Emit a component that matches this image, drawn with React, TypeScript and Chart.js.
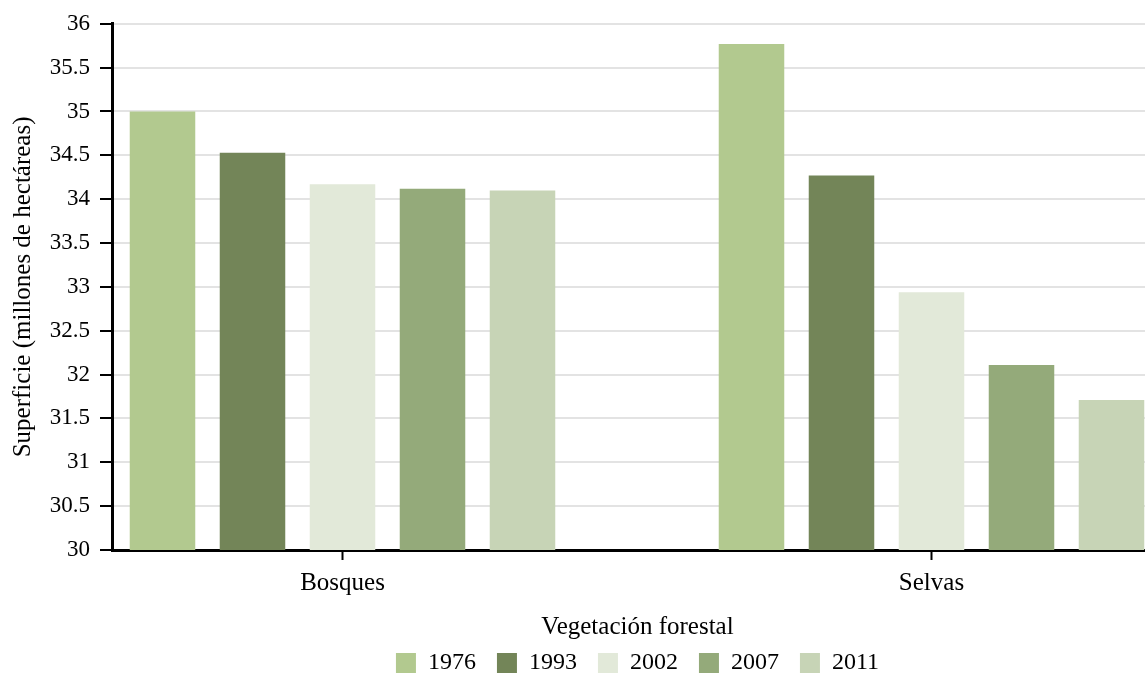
import React, { useEffect, useRef } from 'react';
import { Chart, registerables } from 'chart.js';

Chart.register(...registerables);

const categories = ['Bosques', 'Selvas'];
const years = ['1976', '1993', '2002', '2007', '2011'];
const colors = ['#b2c98f', '#738558', '#e2e9d9', '#94aa7a', '#c7d4b6'];
const values1976 = [35.0, 35.77];
const values1993 = [34.53, 34.27];
const values2002 = [34.17, 32.94];
const values2007 = [34.12, 32.11];
const values2011 = [34.1, 31.71];
const seriesValues = [values1976, values1993, values2002, values2007, values2011];
const yMin = 30;
const yMax = 36;
const yStep = 0.5;
const xAxisTitle = 'Vegetación forestal';
const yAxisTitle = 'Superficie (millones de hectáreas)';

const CANVAS_W = 1163;
const CANVAS_H = 685;

export default function App() {
  const canvasRef = useRef<HTMLCanvasElement | null>(null);

  useEffect(() => {
    if (!canvasRef.current) return;
    const family = '"Liberation Serif", "Times New Roman", serif';
    const chart = new Chart(canvasRef.current, {
      type: 'bar',
      data: {
        datasets: years.map((year, di) => ({
          label: year,
          data: categories.map((_, ci) => ({ x: ci, y: seriesValues[di][ci] })),
          backgroundColor: colors[di],
          borderWidth: 0,
          barPercentage: 0.728,
          categoryPercentage: 0.764,
        })),
      },
      options: {
        animation: false,
        responsive: false,
        events: [],
        layout: { padding: { top: 22, left: 0, right: 0, bottom: 0 } },
        font: { family },
        scales: {
          x: {
            type: 'linear',
            min: -0.39134,
            max: 1.39304,
            offset: false,
            afterBuildTicks: (s: any) => {
              s.ticks = categories.map((_, i) => ({ value: i }));
            },
            afterFit: (s: any) => {
              s.height = 80;
            },
            ticks: {
              callback: (v: any) => categories[v] ?? '',
              autoSkip: false,
              maxRotation: 0,
              padding: 8,
              color: '#000',
              font: { family, size: 25 },
            },
            grid: {
              display: true,
              drawOnChartArea: false,
              offset: false,
              tickLength: 10,
              tickColor: '#000',
              tickWidth: 2,
              color: '#000',
            },
            border: { color: '#000', width: 3 },
            title: {
              display: true,
              text: xAxisTitle,
              color: '#000',
              font: { family, size: 25 },
              padding: { top: 0, bottom: -12 },
            },
          },
          y: {
            min: yMin,
            max: yMax,
            afterFit: (s: any) => {
              s.width = 112;
            },
            ticks: {
              stepSize: yStep,
              padding: 10,
              color: '#000',
              font: { family, size: 23 },
              callback: (v: any) => String(Number(Number(v).toFixed(1))),
            },
            grid: {
              color: '#e3e3e3',
              lineWidth: 2,
              tickColor: '#000',
              tickLength: 12,
              tickWidth: 2,
            },
            border: { color: '#000', width: 3 },
            title: {
              display: true,
              text: yAxisTitle,
              color: '#000',
              font: { family, size: 25 },
              padding: { top: 8, bottom: 0 },
            },
          },
        },
        plugins: {
          tooltip: { enabled: false },
          legend: {
            position: 'bottom',
            fullSize: false,
            labels: {
              boxWidth: 20,
              boxHeight: 20,
              padding: 21,
              color: '#000',
              font: { family, size: 24 },
            },
          },
        },
      } as any,
    });
    return () => chart.destroy();
  }, []);

  return (
    <div
      style={{
        position: 'absolute',
        left: 0,
        top: 0,
        width: 1145,
        height: 677,
        overflow: 'hidden',
        background: '#fff',
      }}
    >
      <canvas
        ref={canvasRef}
        width={CANVAS_W}
        height={CANVAS_H}
        style={{ display: 'block', width: CANVAS_W, height: CANVAS_H }}
      />
    </div>
  );
}
